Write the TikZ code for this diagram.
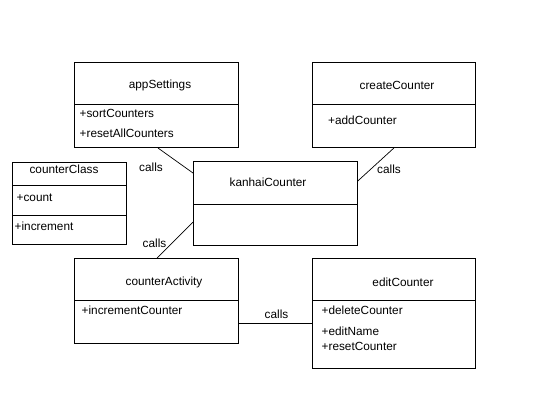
\documentclass[tikz,border=0pt]{standalone}
\usepackage{fontspec}
\setmainfont{Liberation Sans}
\usetikzlibrary{calc}
\begin{document}
\begin{tikzpicture}[x=1pt,y=-1pt,
  every node/.style={font=\fontsize{11.8}{13.5}\selectfont, inner sep=0pt},
  classbox/.style={draw, line width=0.8pt, anchor=north west, minimum width=#1},
  txt/.style={anchor=west},
  ttl/.style={anchor=center},
  lbl/.style={anchor=center},
  link/.style={line width=0.7pt},
  divider/.style={line width=0.8pt}]
\fill[white] (0,0) rectangle (550,400);
\useasboundingbox (0,0) rectangle (550,400);

% boxes
\node[classbox=164pt, minimum height=85.5pt] (app) at (74,61.7) {};
\node[classbox=163pt, minimum height=85.5pt] (create) at (312,61.7) {};
\node[classbox=114pt, minimum height=82pt] (cls) at (12,162) {};
\node[classbox=164pt, minimum height=84pt] (kan) at (193,161) {};
\node[classbox=164pt, minimum height=85pt] (act) at (74,258) {};
\node[classbox=163pt, minimum height=110pt] (edit) at (312,258) {};

% dividers
\draw[divider] (app.west |- 0,104) -- (app.east |- 0,104);
\draw[divider] (create.west |- 0,104) -- (create.east |- 0,104);
\draw[divider] (cls.west |- 0,185) -- (cls.east |- 0,185);
\draw[divider] (cls.west |- 0,215) -- (cls.east |- 0,215);
\draw[divider] (kan.west |- 0,204) -- (kan.east |- 0,204);
\draw[divider] (act.west |- 0,300) -- (act.east |- 0,300);
\draw[divider] (edit.west |- 0,300) -- (edit.east |- 0,300);

% titles
\node[ttl] (appT) at (160,85) {appSettings};
\node[ttl] (createT) at (397,85) {createCounter};
\node[ttl] (clsT) at (64,169.5) {counterClass};
\node[ttl] (kanT) at (268,182) {kanhaiCounter};
\node[ttl] (actT) at (164,282) {counterActivity};
\node[ttl] (editT) at (403,282) {editCounter};

% members
\node[txt] (m1) at (79.5,113.5) {+sortCounters};
\node[txt] (m2) at (79.5,133) {+resetAllCounters};
\node[txt] (m3) at (328,120.5) {+addCounter};
\node[txt] (m4) at (16.5,198) {+count};
\node[txt] (m5) at (14.5,226.5) {+increment};
\node[txt] (m6) at (81.5,310) {+incrementCounter};
\node[txt] (m7) at (321.5,310.5) {+deleteCounter};
\node[txt] (m8) at (321.5,331) {+editName};
\node[txt] (m9) at (321.5,346) {+resetCounter};

% connectors
\draw[link] ($(app.south west)+(84,0)$) -- ($(kan.north west)+(0,12)$);
\draw[link] (create.south) -- ($(kan.north east)+(0,20)$);
\draw[link] ($(act.north west)+(83,0)$) -- ($(kan.north west)+(0,61)$);
\draw[link] ($(act.north east)+(0,65)$) -- ($(edit.north west)+(0,65)$);

% labels
\node[lbl] (c1) at (151,167) {calls};
\node[lbl] (c2) at (389,169.5) {calls};
\node[lbl] (c3) at (154.5,243.5) {calls};
\node[lbl] (c4) at (276.5,314.5) {calls};
\end{tikzpicture}
\end{document}
